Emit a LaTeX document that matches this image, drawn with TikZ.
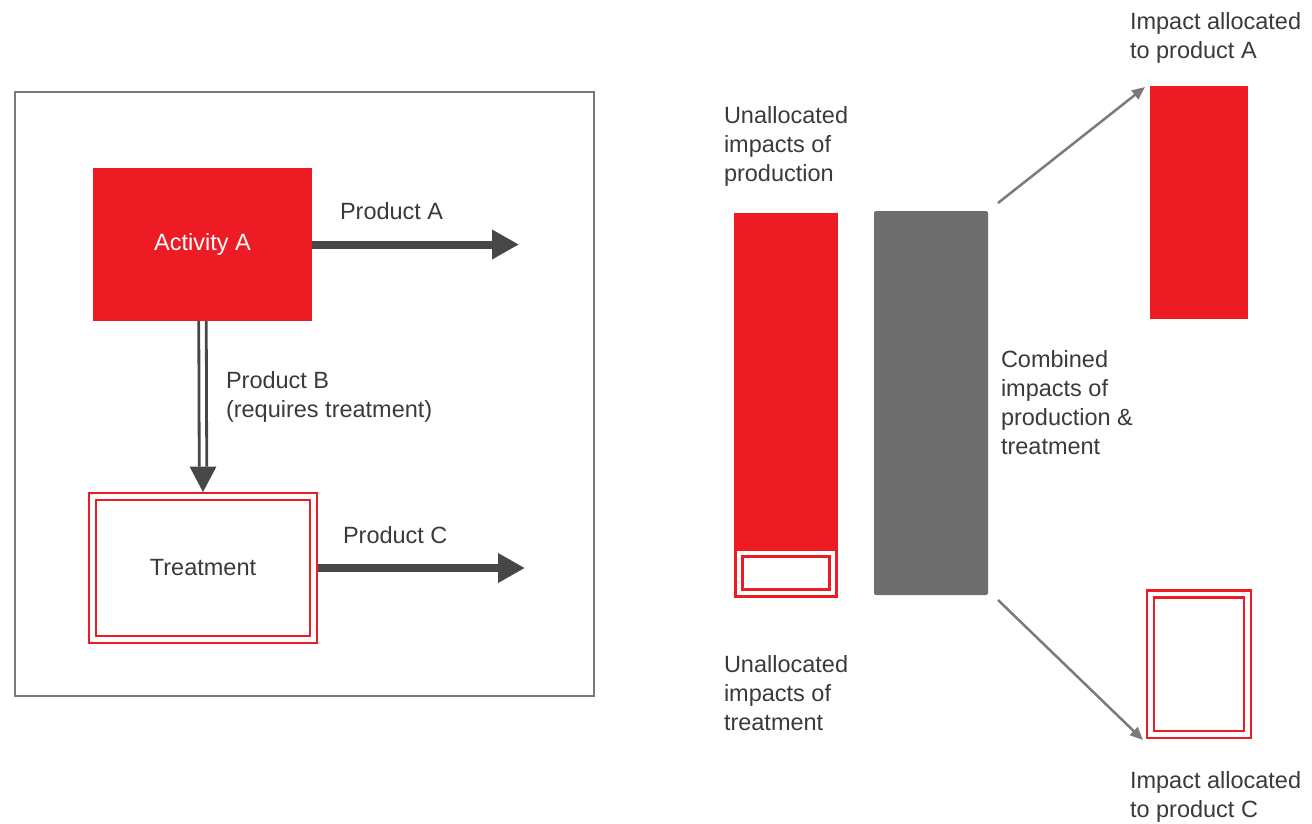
\documentclass[tikz,border=0pt]{standalone}
\usepackage{fontspec}
\setmainfont{Liberation Sans}
\usetikzlibrary{arrows.meta}
\definecolor{impred}{HTML}{ED1C24}
\definecolor{flowgray}{HTML}{474747}
\definecolor{linkgray}{HTML}{7A7A7A}
\definecolor{bargray}{HTML}{6E6E6E}
\definecolor{txt}{HTML}{3A3A3A}
\tikzset{
  every node/.style={inner sep=0pt, outer sep=0pt},
  % multi-line labels: placed at the baseline of their last line
  lbl/.style={font=\fontsize{23.5}{29}\selectfont, text=txt, align=left, anchor=base west},
  redbox/.style={fill=impred, draw=none, rectangle},
  dblbox/.style={rectangle, draw=impred, line width=2.5pt, double=white, double distance=4.5pt},
  flow/.style={draw=flowgray, line width=8pt, -{Triangle[length=27pt,width=28pt]}},
  flowline/.style={draw=flowgray, line width=2.8pt},
  link/.style={draw=linkgray, line width=2.5pt, -{Triangle[length=13pt,width=11pt]}},
}
\begin{document}
\begin{tikzpicture}[x=1pt,y=-1pt]
\useasboundingbox (0,0) rectangle (1312,823);

% ---------- process diagram ----------
\node[draw=linkgray, line width=2pt, minimum width=579pt, minimum height=604pt] (frame) at (304.5,394) {};

\node[redbox, minimum width=219pt, minimum height=153pt,
      font=\fontsize{23.5}{29}\selectfont, text=white] (act) at (202.5,244.5) {\raisebox{-4pt}{Activity A}};

\node[dblbox, minimum width=221pt, minimum height=143pt,
      font=\fontsize{23.5}{29}\selectfont, text=txt] (treat) at (203,568) {\raisebox{-1pt}{Treatment}};

\coordinate (outA) at (519,244.5);
\coordinate (outC) at (525,568);

\draw[flow] (act.east) -- (outA);
\draw[flow] ([xshift=4.5pt]treat.east) -- (outC);

% Product B: double line ending in a solid head
\coordinate (bTip) at ([yshift=4.5pt]treat.north);
\coordinate (bBase) at ([yshift=30pt]treat.north);
\draw[flowline] ([xshift=-3.75pt]act.south) -- ([xshift=-3.75pt]bBase);
\draw[flowline] ([xshift=3.75pt]act.south) -- ([xshift=3.75pt]bBase);
\fill[flowgray] (bTip) -- ([xshift=-13.5pt]bBase) -- ([xshift=13.5pt]bBase) -- cycle;

\node[lbl] (lA) at (340,219) {Product A};
\node[lbl] (lB) at (226,417) {Product B\\(requires treatment)};
\node[lbl] (lC) at (343,543) {Product C};

% ---------- impact bars ----------
\node[redbox, minimum width=104pt, minimum height=338pt] (prod) at (786,382) {};
\node[dblbox, minimum width=94pt, minimum height=40pt] (trt) at (786,573) {};

\node[fill=bargray, rounded corners=2pt, minimum width=114pt, minimum height=384pt] (comb) at (931,403) {};

\node[redbox, minimum width=98pt, minimum height=233pt] (allocA) at (1199,202.5) {};
\node[dblbox, minimum width=97pt, minimum height=140.5pt] (allocC) at (1199,664.25) {};

\draw[link] ([xshift=10pt,yshift=8pt]comb.north east) -- ([xshift=-5pt,yshift=-1pt]allocA.north west);
\draw[link] ([xshift=10pt,yshift=-5pt]comb.south east) -- ([xshift=-7.5pt,yshift=-5.5pt]allocC.south west);

\node[lbl] (tProd) at (724,181) {Unallocated\\impacts of\\production};
\node[lbl] (tComb) at (1001,454) {Combined\\impacts of\\production \&\\treatment};
\node[lbl] (tTrt) at (724,730) {Unallocated\\impacts of\\treatment};
\node[lbl] (tA) at (1130,58) {Impact allocated\\to product A};
\node[lbl] (tC) at (1130,817) {Impact allocated\\to product C};
\end{tikzpicture}
\end{document}
